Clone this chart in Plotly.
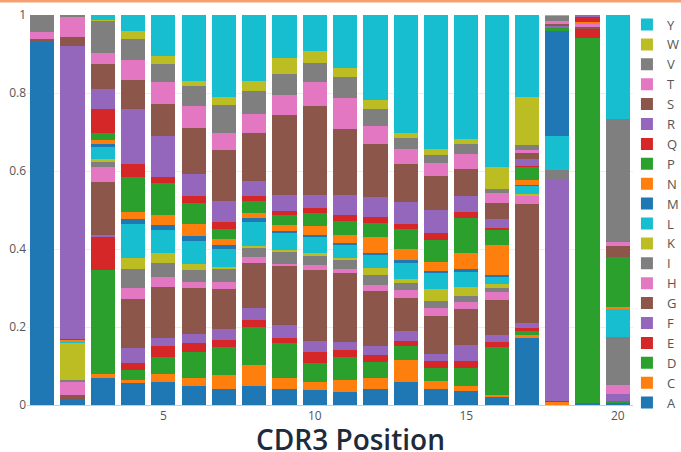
import plotly.graph_objects as go

positions = list(range(1, 21))
residues = ["A", "C", "D", "E", "F", "G", "H", "I", "K", "L",
            "M", "N", "P", "Q", "R", "S", "T", "V", "W", "Y"]

A = [.930, .013, .070, .057, .059, .049, .042, .049, .042, .039, .033, .040, .059, .042, .036, .021, .173, 0, .006, .004]
C = [0, 0, .009, .006, .020, .019, .034, .053, .026, .019, .031, .030, .056, .020, .013, .005, .006, .008, 0, 0]
D = [0, 0, .268, .028, .045, .068, .073, .097, .090, .049, .059, .039, .037, .034, .046, .122, .011, 0, .936, .006]
E = [0, 0, .083, .017, .028, .023, .017, .019, .013, .030, .018, .020, .013, .017, .019, .013, .008, .002, .021, 0]
F = [0, 0, .006, .039, .021, .024, .030, .032, .034, .026, .021, .023, .026, .019, .039, .019, .011, .566, 0, .017]
G = [0, .012, .137, .126, .129, .118, .101, .114, .153, .184, .177, .140, .083, .095, .092, .090, .306, 0, .007, 0]
H = [0, .034, .037, .026, .027, .015, .019, .015, .004, .011, .009, .016, .020, .023, .020, .020, .021, 0, .009, .024]
I = [0, .005, .014, .050, .035, .030, .033, .024, .032, .024, .023, .026, .019, .017, .015, .011, 0, .026, 0, .123]
K = [0, .097, .006, .028, .025, .015, .006, .004, .004, .008, .007, .017, .011, .030, .022, .009, .006, 0, 0, 0]
L = [0, .003, .032, .086, .061, .059, .044, .062, .043, .043, .032, .034, .041, .041, .040, .017, .020, .088, 0, .071]
M = [0, 0, .007, .015, .012, .014, .012, .010, .006, .004, .006, .004, .006, .006, .007, .006, .002, .269, 0, 0]
N = [0, .003, .010, .017, .024, .029, .015, .013, .015, .021, .020, .043, .028, .023, .042, .077, .013, 0, .004, .006]
P = [0, 0, .019, .090, .083, .056, .026, .030, .026, .034, .036, .034, .053, .056, .088, .039, .034, .008, 0, .129]
Q = [0, .003, .060, .034, .015, .017, .017, .013, .010, .013, .016, .017, .011, .018, .015, .004, .003, 0, .013, 0]
R = [0, .750, .051, .139, .107, .056, .053, .039, .040, .034, .051, .051, .057, .059, .043, .024, .016, .005, .004, 0]
S = [.009, .024, .065, .075, .081, .118, .131, .124, .206, .228, .168, .134, .097, .086, .067, .040, .017, .005, 0, .028]
T = [.017, .053, .029, .051, .056, .056, .045, .047, .050, .062, .080, .047, .039, .034, .039, .026, .007, .008, 0, .010]
V = [.043, .003, .082, .054, .047, .051, .071, .061, .056, .047, .054, .045, .028, .021, .026, .011, .013, .013, 0, .315]
W = [0, 0, .003, .021, .021, .015, .020, .026, .039, .032, .024, .021, .013, .015, .013, .057, .122, .002, 0, 0]
Y = [0, 0, .011, .040, .103, .168, .211, .168, .111, .092, .135, .219, .303, .344, .318, .389, .211, 0, 0, .267]

series = [A, C, D, E, F, G, H, I, K, L, M, N, P, Q, R, S, T, V, W, Y]

palette = ["#1f77b4", "#ff7f0e", "#2ca02c", "#d62728", "#9467bd",
           "#8c564b", "#e377c2", "#7f7f7f", "#bcbd22", "#17becf"]

fig = go.Figure()
for i, (name, vals) in enumerate(zip(residues, series)):
    fig.add_trace(go.Bar(x=positions, y=vals, name=name,
                         marker=dict(color=palette[i % 10], line=dict(width=0))))

fig.update_layout(
    width=681, height=452,
    barmode="stack", bargap=0.2,
    paper_bgcolor="white", plot_bgcolor="white",
    margin=dict(l=27, r=48, t=15, b=47, autoexpand=False),
    font=dict(family="Open Sans", size=12, color="#555"),
    legend=dict(traceorder="reversed", x=0.99, xanchor="left", y=1.014, yanchor="top",
                maxheight=440,
                font=dict(size=13, color="#555"), bgcolor="rgba(255,255,255,0)"),
    xaxis=dict(range=[0.5, 20.5], tickmode="linear", tick0=5, dtick=5,
               showgrid=False, showline=True, linecolor="#ccc", linewidth=1,
               zeroline=False, ticks=""),
    yaxis=dict(range=[0, 1], tickmode="linear", tick0=0, dtick=0.2,
               showgrid=True, gridcolor="#eceef3", zeroline=False, ticks=""),
    annotations=[dict(text="CDR3 Position", xref="paper", yref="paper",
                      x=(350 - 27) / 606, y=-0.087, xanchor="center", yanchor="middle",
                      showarrow=False,
                      font=dict(family="Open Sans", size=28, weight=600, color="#1d2b3a"))],
    shapes=[dict(type="line", xref="paper", yref="paper",
                 x0=-27 / 606, x1=1 + 48 / 606, y0=1 + 14 / 389, y1=1 + 14 / 389,
                 line=dict(color="#f5a070", width=3))],
)

fig.write_html("out.html",
               config={"displayModeBar": False},
               post_script="document.body.style.margin='0';document.body.style.overflow='hidden';")
